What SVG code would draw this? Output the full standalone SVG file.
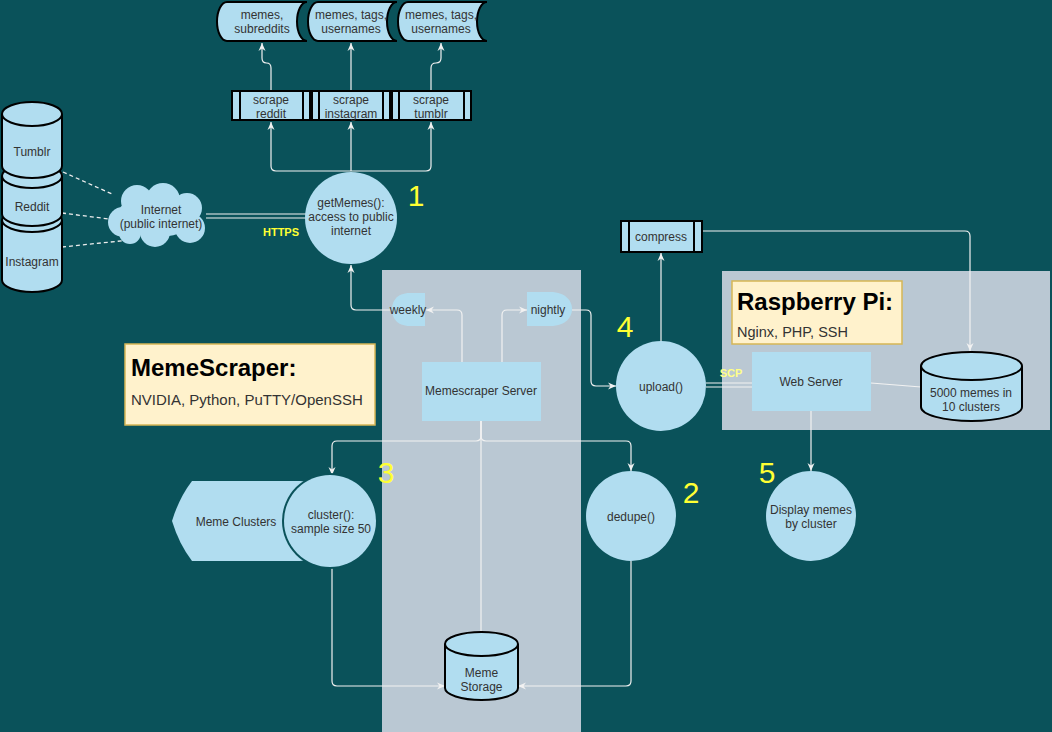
<svg xmlns="http://www.w3.org/2000/svg" width="1052" height="732" viewBox="0 0 1052 732">
<style>
.n{fill:#b1ddf0;stroke:none}
.s{fill:#b1ddf0;stroke:#000;stroke-width:2}
.il{stroke:#000;stroke-width:2;fill:none}
.t{font-family:"Liberation Sans",Arial,sans-serif;font-size:12px;fill:#333;text-anchor:middle}
.c{fill:none;stroke:#f2f2f2;stroke-width:1.2}
.d{fill:none;stroke:#eeeeee;stroke-width:1.3;stroke-dasharray:4,3}
.num{font-family:"Liberation Sans",Arial,sans-serif;font-size:30px;fill:#ffff33;text-anchor:middle}
.lab{font-family:"Liberation Sans",Arial,sans-serif;font-size:11px;font-weight:bold;text-anchor:middle}
.note{fill:#fff2cc;stroke:#d6b656;stroke-width:1.5}
.h{font-family:"Liberation Sans",Arial,sans-serif;font-size:24px;font-weight:bold;fill:#000}
.sub{font-family:"Liberation Sans",Arial,sans-serif;font-size:15px;fill:#333}
</style>
<defs>
<marker id="a" markerUnits="userSpaceOnUse" markerWidth="10" markerHeight="10" refX="9" refY="5" orient="auto">
<path d="M1,1.5 L9,5 L1,8.5 L3.5,5 Z" fill="#f2f2f2"/>
</marker>
</defs>
<rect width="1052" height="732" fill="#0a525a"/>
<g id="panels">
<rect x="382" y="270" width="199" height="462" fill="#bac8d3"/>
<rect x="722" y="271" width="328" height="159" fill="#bac8d3"/>
</g>
<g id="connectors">
<path class="c" marker-end="url(#a)" d="M271,91 V68 Q271,63 266.5,63 Q262,63 262,58 V43"/>
<path class="c" marker-end="url(#a)" d="M351,91 V43"/>
<path class="c" marker-end="url(#a)" d="M431,91 V68 Q431,63 436,63 Q441,63 441,58 V43"/>
<path class="c" marker-end="url(#a)" d="M351,171 H276 Q271,171 271,166 V122"/>
<path class="c" marker-end="url(#a)" d="M351,171 V122"/>
<path class="c" marker-end="url(#a)" d="M351,171 H426 Q431,171 431,166 V122"/>
<path class="d" d="M63,172 L112,194"/>
<path class="d" d="M62,213 L117,220"/>
<path class="d" d="M62,247 L130,240"/>
<path class="c" d="M206,214 H306 M206,218 H306"/>
<path class="c" marker-end="url(#a)" d="M392,310 H356 Q351,310 351,305 V265"/>
<path class="c" marker-end="url(#a)" d="M462,362 V315 Q462,310 457,310 H426"/>
<path class="c" marker-end="url(#a)" d="M502,362 V315 Q502,310 507,310 H527"/>
<path class="c" marker-end="url(#a)" d="M572,310 H586 Q591,310 591,315 V381 Q591,386 596,386 H616"/>
<path class="c" marker-end="url(#a)" d="M661,341 V253"/>
<path class="c" marker-end="url(#a)" d="M702,231 H965 Q970,231 970,236 V351"/>
<path class="c" d="M706,383 H752 M706,387 H752"/>
<path class="c" stroke="#e6e6e6" d="M871,383 L921,387"/>
<path class="c" marker-end="url(#a)" d="M811,411 V471"/>
<path class="c" d="M481,421 V632"/>
<path class="c" marker-end="url(#a)" d="M481,421 V436 Q481,441 476,441 H337 Q332,441 332,446 V475"/>
<path class="c" marker-end="url(#a)" d="M481,421 V436 Q481,441 486,441 H626 Q631,441 631,446 V471"/>
<path class="c" marker-end="url(#a)" d="M332,567 V681 Q332,686 337,686 H445"/>
<path class="c" marker-end="url(#a)" d="M631,561 V681 Q631,686 626,686 H518"/>
</g>
<g id="doc-reddit">
<path class="s" d="M227,2 H307 A10,19.5 0 0 0 307,41 H227 A10,19.5 0 0 1 227,2 Z"/>
<text class="t" x="262" y="19">memes,</text>
<text class="t" x="262" y="33">subreddits</text>
</g>
<g id="doc-instagram">
<path class="s" d="M318,2 H397 A10,19.5 0 0 0 397,41 H318 A10,19.5 0 0 1 318,2 Z"/>
<text class="t" x="351" y="19">memes, tags,</text>
<text class="t" x="351" y="33">usernames</text>
</g>
<g id="doc-tumblr">
<path class="s" d="M408,2 H487 A10,19.5 0 0 0 487,41 H408 A10,19.5 0 0 1 408,2 Z"/>
<text class="t" x="441" y="19">memes, tags,</text>
<text class="t" x="441" y="33">usernames</text>
</g>
<g id="scrape-reddit">
<rect class="s" x="232" y="91" width="78" height="29"/>
<path class="il" d="M240,91 V120 M303,91 V120"/>
<text class="t" x="271" y="104">scrape</text>
<text class="t" x="271" y="118">reddit</text>
</g>
<g id="scrape-instagram">
<rect class="s" x="312" y="91" width="78" height="29"/>
<path class="il" d="M319,91 V120 M383,91 V120"/>
<text class="t" x="351" y="104">scrape</text>
<text class="t" x="351" y="118">instagram</text>
</g>
<g id="scrape-tumblr">
<rect class="s" x="392" y="91" width="79" height="29"/>
<path class="il" d="M399,91 V120 M464,91 V120"/>
<text class="t" x="431" y="104">scrape</text>
<text class="t" x="431" y="118">tumblr</text>
</g>
<g id="instagram">
<path class="s" d="M2,220 A30,12 0 0 1 62,220 V280 A30,12 0 0 1 2,280 Z"/>
<path class="il" d="M2,220 A30,12 0 0 0 62,220"/>
<text class="t" x="32" y="266">Instagram</text>
</g>
<g id="reddit">
<path class="s" d="M2,176 A30,12 0 0 1 62,176 V214 A30,12 0 0 1 2,214 Z"/>
<path class="il" d="M2,176 A30,12 0 0 0 62,176"/>
<text class="t" x="32" y="211">Reddit</text>
</g>
<g id="tumblr">
<path class="s" d="M2,114 A30,12 0 0 1 62,114 V166 A30,12 0 0 1 2,166 Z"/>
<path class="il" d="M2,114 A30,12 0 0 0 62,114"/>
<text class="t" x="32" y="156">Tumblr</text>
</g>
<g id="internet">
<ellipse class="n" cx="158" cy="215" rx="40" ry="22"/>
<circle class="n" cx="137" cy="201" r="16"/>
<circle class="n" cx="163" cy="200" r="17"/>
<circle class="n" cx="187" cy="208" r="15"/>
<circle class="n" cx="123" cy="222" r="15"/>
<circle class="n" cx="190" cy="228" r="15"/>
<circle class="n" cx="155" cy="232" r="15"/>
<circle class="n" cx="130" cy="233" r="11"/>
<text class="t" x="161" y="214">Internet</text>
<text class="t" x="161" y="228">(public internet)</text>
</g>
<g id="getmemes">
<circle class="n" cx="351" cy="218" r="46"/>
<text class="t" x="351" y="207">getMemes():</text>
<text class="t" x="351" y="221">access to public</text>
<text class="t" x="351" y="235">internet</text>
</g>
<text class="lab" x="281" y="236" fill="#ffff33">HTTPS</text>
<text class="num" x="416" y="206">1</text>
<g id="weekly">
<path class="n" d="M425,293 L410,293 C396,293 392,302 392,309.5 C392,317 396,326 410,326 L425,326 Z"/>
<text class="t" x="408" y="314">weekly</text>
</g>
<g id="nightly">
<path class="n" d="M527,292 L550,292 C567,292 572,302 572,309 C572,316 567,326 550,326 L527,326 Z"/>
<text class="t" x="548" y="314">nightly</text>
</g>
<g id="memescraper-note">
<rect class="note" x="125" y="344" width="250" height="81"/>
<text class="h" x="131" y="376">MemeScraper:</text>
<text class="sub" x="131" y="405">NVIDIA, Python, PuTTY/OpenSSH</text>
</g>
<g id="memescraper-server">
<rect class="n" x="422" y="362" width="119" height="59"/>
<text class="t" x="481" y="395">Memescraper Server</text>
</g>
<g id="upload">
<circle class="n" cx="661" cy="386" r="45"/>
<text class="t" x="661" y="391">upload()</text>
</g>
<text class="num" x="625" y="337">4</text>
<g id="compress">
<rect class="s" x="621" y="221" width="81" height="31"/>
<path class="il" d="M629,221 V252 M694,221 V252"/>
<text class="t" x="661" y="241">compress</text>
</g>
<g id="raspberry-note">
<rect class="note" x="732" y="281" width="170" height="63"/>
<text class="h" x="737" y="310">Raspberry Pi:</text>
<text class="sub" x="737" y="337" style="font-size:14.5px">Nginx, PHP, SSH</text>
</g>
<text class="lab" x="731" y="377" fill="#ffff88">SCP</text>
<g id="web-server">
<rect class="n" x="752" y="352" width="119" height="59"/>
<text class="t" x="811" y="386">Web Server</text>
</g>
<g id="memes-db">
<path class="s" d="M921,366 A50.5,14 0 0 1 1022,366 V407 A50.5,14 0 0 1 921,407 Z"/>
<path class="il" d="M921,366 A50.5,14 0 0 0 1022,366"/>
<text class="t" x="971" y="397">5000 memes in</text>
<text class="t" x="971" y="411">10 clusters</text>
</g>
<g id="display">
<circle class="n" cx="811" cy="516" r="45"/>
<text class="t" x="811" y="514">Display memes</text>
<text class="t" x="811" y="528">by cluster</text>
</g>
<text class="num" x="767" y="483">5</text>
<g id="dedupe">
<circle class="n" cx="631" cy="516" r="45"/>
<text class="t" x="631" y="521">dedupe()</text>
</g>
<text class="num" x="691" y="503">2</text>
<g id="meme-clusters">
<path class="n" d="M192,481 L300,481 A40,40 0 0 1 300,561 L192,561 Q179,544 172,521 Q179,498 192,481 Z"/>
<text class="t" x="236" y="526">Meme Clusters</text>
</g>
<g id="cluster">
<circle cx="330" cy="521" r="48" fill="#0a525a"/>
<circle class="n" cx="330" cy="521" r="46"/>
<text class="t" x="331" y="519">cluster():</text>
<text class="t" x="331" y="533">sample size 50</text>
</g>
<text class="num" x="386" y="483">3</text>
<g id="meme-storage">
<path class="s" d="M445,644 A36.5,12 0 0 1 518,644 V688 A36.5,12 0 0 1 445,688 Z"/>
<path class="il" d="M445,644 A36.5,12 0 0 0 518,644"/>
<text class="t" x="481.5" y="677">Meme</text>
<text class="t" x="481.5" y="691">Storage</text>
</g>
</svg>
